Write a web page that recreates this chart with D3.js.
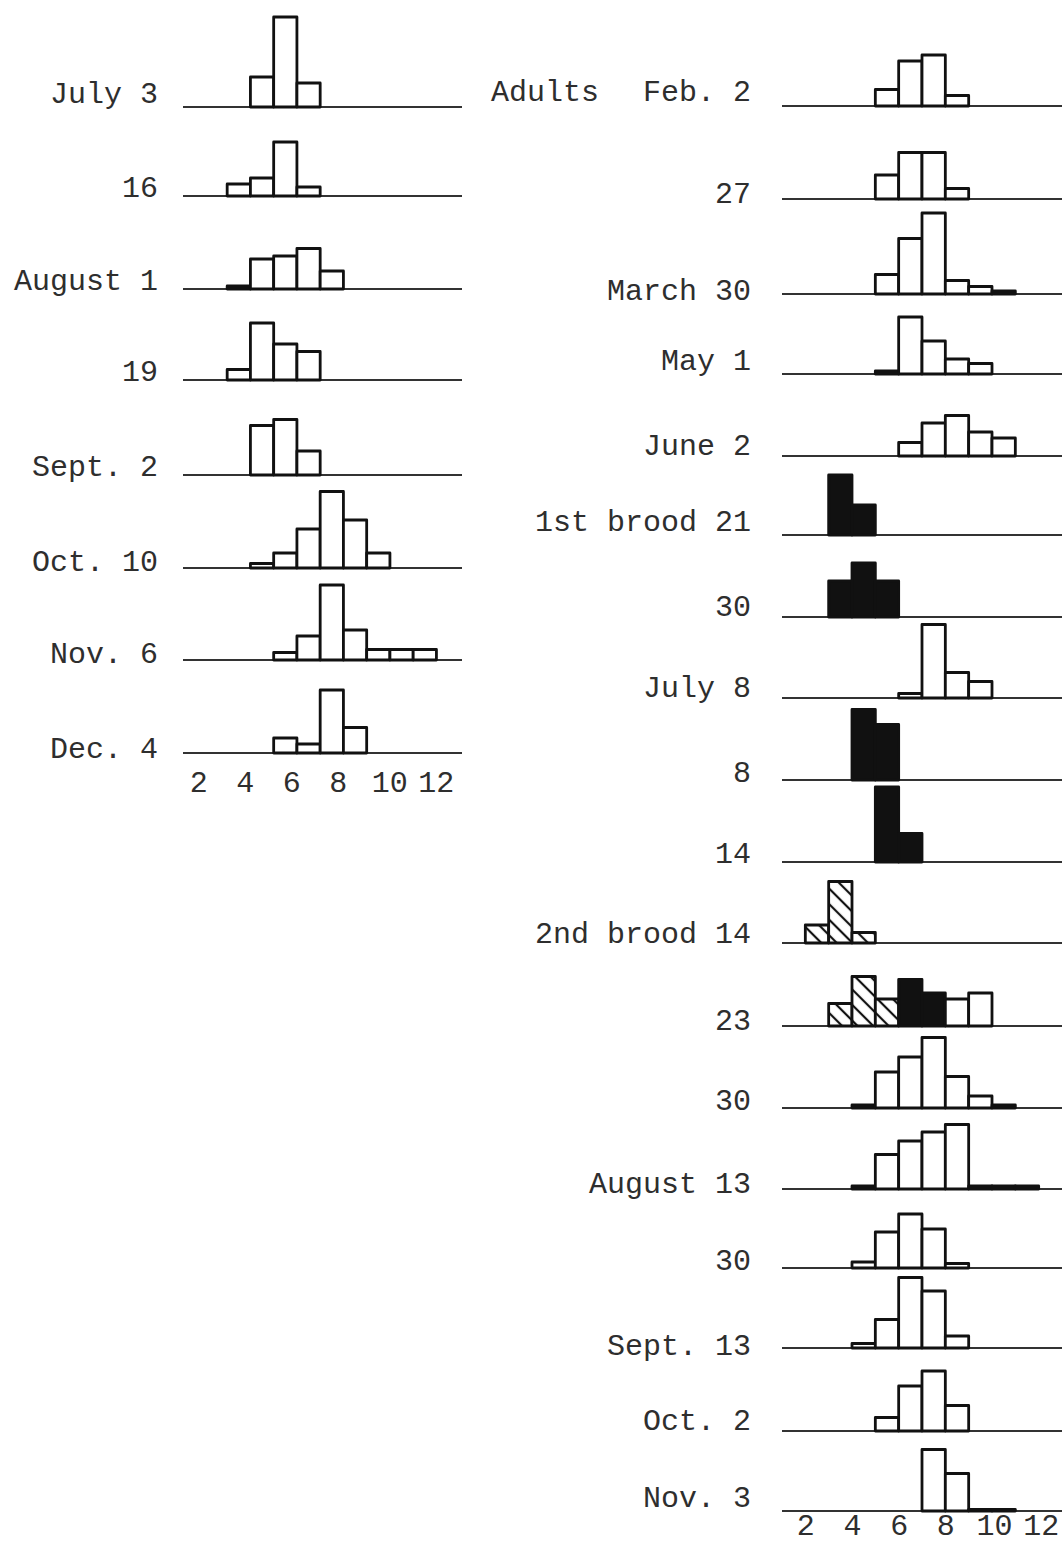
<!DOCTYPE html>
<html>
<head>
<meta charset="utf-8">
<script src="https://cdn.jsdelivr.net/npm/d3@7"></script>
<style>
  body { margin: 0; background: #fff; }
  svg text { font-family: "Liberation Mono", "DejaVu Sans Mono", monospace; font-size: 30px; fill: #2e2e2e; }
</style>
</head>
<body>
<div id="chart"></div>
<script>

// ---- data (heights) ----
var ticks = [ 2, 4, 6, 8, 10, 12 ];

var leftLabels = [ "July 3", "16", "August 1", "19", "Sept. 2", "Oct. 10", "Nov. 6", "Dec. 4" ];
var leftStart  = [ 5, 4, 4, 4, 5, 5, 6, 6 ];
var leftValues = [
  [ 20, 60, 16 ],
  [ 8, 12, 36, 6 ],
  [ 2, 20, 22, 27, 12 ],
  [ 7, 38, 24, 19 ],
  [ 33, 37, 16 ],
  [ 3, 10, 26, 51, 32, 10 ],
  [ 5, 16, 50, 20, 7, 7, 7 ],
  [ 10, 6, 42, 17 ]
];

var rightTitle  = "Adults";
var rightLabels = [ "Feb. 2", "27", "March 30", "May 1", "June 2", "1st brood 21", "30", "July 8", "8", "14",
                    "2nd brood 14", "23", "30", "August 13", "30", "Sept. 13", "Oct. 2", "Nov. 3" ];
var rightStart  = [ 5, 5, 5, 5, 6, 3, 3, 6, 4, 5, 2, 3, 4, 4, 4, 4, 5, 7 ];
var rightValues = [
  [ 11, 30, 34, 7 ],
  [ 16, 31, 31, 7 ],
  [ 13, 37, 54, 9, 5, 2 ],
  [ 2, 38, 22, 10, 7 ],
  [ 9, 22, 27, 16, 12 ],
  [ 40, 20 ],
  [ 24, 36, 24 ],
  [ 3, 49, 17, 11 ],
  [ 47, 37 ],
  [ 50, 19 ],
  [ 12, 41, 7 ],
  [ 15, 33, 18, 31, 22, 18, 22 ],
  [ 2, 24, 34, 47, 21, 8, 2 ],
  [ 2, 23, 32, 38, 43, 2, 2, 2 ],
  [ 4, 24, 36, 26, 3 ],
  [ 3, 19, 47, 38, 8 ],
  [ 9, 30, 40, 17 ],
  [ 41, 25, 1, 1 ]
];
// a = adults, 1 = first brood, 2 = second brood (one code per bar, or one for the whole row)
var rightGroups = [ "a", "a", "a", "a", "a", "1", "1", "a", "1", "1", "2", "22211aa", "a", "a", "a", "a", "a", "a" ];

// ---- layout ----
var width = 1064;
var height = 1544;

var leftBase    = [ 107, 196, 289, 380, 475, 568, 660, 753 ];
var leftLabelY  = [ 103, 197, 290, 381, 476, 571, 663, 758 ];
var rightBase   = [ 106, 199, 294, 374, 456, 535, 617, 698, 780, 862, 943, 1026, 1108, 1189, 1268, 1348, 1431, 1511 ];
var rightLabelY = [ 101, 203, 300, 370, 455, 531, 616, 697, 782, 863, 943, 1030, 1110, 1193, 1270, 1355, 1430, 1507 ];

var svg = d3.select( "#chart" )
    .append( "svg" )
    .attr( "width", width )
    .attr( "height", height );

var defs = svg.append( "defs" );
var hatch = defs.append( "pattern" )
    .attr( "id", "hatch" )
    .attr( "patternUnits", "userSpaceOnUse" )
    .attr( "width", 11 )
    .attr( "height", 11 )
    .attr( "patternTransform", "rotate(-45)" );
hatch.append( "rect" ).attr( "width", 11 ).attr( "height", 11 ).attr( "fill", "#fff" );
hatch.append( "line" )
    .attr( "x1", 2 ).attr( "y1", 0 ).attr( "x2", 2 ).attr( "y2", 11 )
    .attr( "stroke", "#111" ).attr( "stroke-width", 2.2 );

var xL = d3.scaleLinear().domain( [ 1.6, 13.6 ] ).range( [ 183, 462 ] );
var xR = d3.scaleLinear().domain( [ 1, 13 ] ).range( [ 782, 1062 ] );
var yH = d3.scaleLinear().domain( [ 0, 60 ] ).range( [ 0, 90 ] );

var fillFor = d3.scaleOrdinal()
    .domain( [ "a", "1", "2" ] )
    .range( [ "#fff", "#111", "url(#hatch)" ] );

function drawPanel( x, binOffset, base, start, vals, groups ) {
  var g = svg.append( "g" );

  g.append( "line" )
      .attr( "x1", x.range()[0] ).attr( "x2", x.range()[1] )
      .attr( "y1", base ).attr( "y2", base )
      .attr( "stroke", "#333" )
      .attr( "stroke-width", 2 );

  var bars = vals.map( function( v, i ) {
    return { bin: start + i, v: v, grp: groups.length == 1 ? groups : groups[i] };
  });

  g.selectAll( "rect" )
      .data( bars )
      .enter()
      .append( "rect" )
      .attr( "x", function( d ) { return x( d.bin + binOffset ); } )
      .attr( "width", function( d ) { return x( d.bin + binOffset + 1 ) - x( d.bin + binOffset ); } )
      .attr( "y", function( d ) { return base - yH( d.v ); } )
      .attr( "height", function( d ) { return yH( d.v ); } )
      .attr( "fill", function( d ) { return fillFor( d.grp ); } )
      .attr( "stroke", "#111" )
      .attr( "stroke-width", 2.8 )
      .attr( "stroke-linejoin", "round" );
}

leftValues.forEach( function( vals, i ) {
  drawPanel( xL, -0.5, leftBase[i], leftStart[i], vals, "a" );
});

rightValues.forEach( function( vals, i ) {
  drawPanel( xR, 0, rightBase[i], rightStart[i], vals, rightGroups[i] );
});

// row labels
svg.append( "g" ).selectAll( "text" )
    .data( leftLabels )
    .enter()
    .append( "text" )
    .attr( "x", 158 )
    .attr( "y", function( d, i ) { return leftLabelY[i]; } )
    .attr( "text-anchor", "end" )
    .text( function( d ) { return d; } );

svg.append( "g" ).selectAll( "text" )
    .data( rightLabels )
    .enter()
    .append( "text" )
    .attr( "x", 751 )
    .attr( "y", function( d, i ) { return rightLabelY[i]; } )
    .attr( "text-anchor", "end" )
    .text( function( d ) { return d; } );

svg.append( "text" )
    .attr( "x", 491 )
    .attr( "y", 101 )
    .text( rightTitle );

// length axes
function drawAxis( x, tx, ty, shift12 ) {
  var ax = svg.append( "g" )
      .attr( "transform", "translate(" + tx + "," + ty + ")" )
      .call( d3.axisBottom( x ).tickValues( ticks ).tickSize( 0 ) );
  ax.select( ".domain" ).remove();
  ax.selectAll( "text" )
      .attr( "y", 0 )
      .attr( "dy", 0 )
      .attr( "dx", function( d ) { return d >= 10 ? shift12 : 0; } )
      .attr( "fill", "#2e2e2e" )
      .style( "font-size", "30px" )
      .style( "font-family", "'Liberation Mono', 'DejaVu Sans Mono', monospace" );
}

drawAxis( xL, 6, 792, 5 );
drawAxis( xR, 0, 1535, 2 );

</script>
</body>
</html>
